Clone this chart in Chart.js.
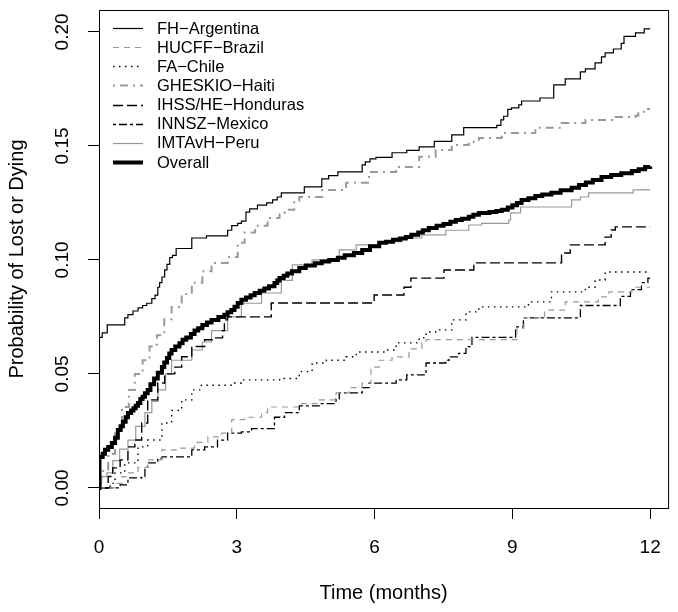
<!DOCTYPE html>
<html>
<head>
<meta charset="utf-8">
<script src="https://cdn.jsdelivr.net/npm/chart.js@4.4.1/dist/chart.umd.min.js"></script>
<style>
  html, body { margin: 0; padding: 0; background: #fff; }
  #wrap { width: 678px; height: 612px; }
</style>
</head>
<body>
<div id="wrap"><canvas id="kmChart" width="678" height="612"></canvas></div>
<script>
// Cumulative probability of lost or dying, step values [month, probability]
const siteNames = ['FH\u2212Argentina', 'HUCFF\u2212Brazil', 'FA\u2212Chile', 'GHESKIO\u2212Haiti',
                   'IHSS/HE\u2212Honduras', 'INNSZ\u2212Mexico', 'IMTAvH\u2212Peru', 'Overall'];

const argentina = [[0,0],[0.01,0.066],[0.07,0.068],[0.18,0.0715],[0.56,0.0746],[0.63,0.076],[0.74,0.0776],
  [0.85,0.079],[0.95,0.080],[1.04,0.081],[1.15,0.083],[1.22,0.0846],[1.28,0.088],[1.32,0.090],[1.37,0.0925],
  [1.43,0.0956],[1.48,0.098],[1.54,0.101],[1.6,0.102],[1.68,0.105],[2.02,0.1096],[2.34,0.1105],[2.8,0.113],
  [2.89,0.115],[3.02,0.116],[3.1,0.117],[3.2,0.121],[3.28,0.1224],[3.45,0.124],[3.65,0.125],[3.78,0.1263],
  [3.88,0.1276],[3.97,0.1294],[4.47,0.132],[4.85,0.1355],[5.0,0.137],[5.2,0.1386],[5.73,0.1417],[5.8,0.143],
  [5.9,0.1443],[6.03,0.145],[6.38,0.147],[6.7,0.148],[6.97,0.1496],[7.3,0.152],[7.68,0.1548],[7.94,0.158],
  [8.66,0.159],[8.75,0.1614],[8.81,0.163],[8.9,0.166],[8.98,0.1667],[9.14,0.168],[9.2,0.1697],[9.6,0.171],
  [9.9,0.1768],[10.15,0.1794],[10.48,0.1825],[10.59,0.1838],[10.8,0.1864],[10.94,0.189],[11.02,0.1908],
  [11.2,0.1925],[11.37,0.195],[11.43,0.198],[11.68,0.1996],[11.87,0.2013],[12,0.2013]];

const brazil = [[0,0],[0.35,0.002],[0.5,0.005],[0.63,0.0066],[0.85,0.009],[1.06,0.0123],[1.37,0.0167],
  [1.72,0.0175],[2.08,0.020],[2.37,0.0224],[2.67,0.024],[2.89,0.030],[3.17,0.031],[3.54,0.033],[3.67,0.0355],
  [4.36,0.037],[4.8,0.0386],[5.16,0.0417],[5.45,0.044],[5.73,0.046],[5.92,0.053],[6.1,0.056],[6.38,0.0575],
  [6.75,0.061],[7.03,0.0636],[7.12,0.065],[9.1,0.070],[9.25,0.0746],[9.7,0.078],[10.15,0.0816],[10.87,0.0838],
  [11.1,0.086],[11.6,0.088],[12,0.088]];

const chile = [[0,0],[0.24,0.002],[0.35,0.0066],[0.56,0.011],[0.85,0.018],[1.06,0.021],[1.37,0.0285],
  [1.58,0.034],[1.8,0.0386],[2.02,0.043],[2.23,0.045],[2.95,0.046],[3.1,0.0474],[3.93,0.048],[4.36,0.051],
  [4.64,0.0548],[4.95,0.056],[5.38,0.0575],[5.6,0.0596],[6.25,0.0605],[6.47,0.0636],[6.97,0.0658],
  [7.12,0.0684],[7.4,0.0693],[7.68,0.0737],[7.99,0.0772],[8.27,0.0794],[9.35,0.0816],[9.85,0.086],
  [10.59,0.088],[10.8,0.0912],[11.02,0.0947],[12,0.0947]];

const haiti = [[0,0],[0.05,0.005],[0.09,0.008],[0.2,0.015],[0.35,0.024],[0.5,0.0355],[0.65,0.043],
  [0.78,0.050],[0.95,0.056],[1.1,0.062],[1.26,0.067],[1.42,0.074],[1.58,0.0794],[1.8,0.085],[2.02,0.090],
  [2.25,0.095],[2.45,0.0987],[2.8,0.1013],[3.02,0.1075],[3.17,0.112],[3.4,0.115],[3.67,0.1184],[3.93,0.1206],
  [4.04,0.122],[4.25,0.126],[4.36,0.1276],[4.86,0.1307],[5.38,0.1338],[5.88,0.1386],[6.47,0.1408],
  [6.97,0.1452],[7.33,0.1482],[7.68,0.1504],[8.05,0.1518],[8.27,0.1535],[8.77,0.1557],[9.5,0.158],
  [10.07,0.160],[10.59,0.1614],[11.24,0.1627],[11.68,0.1632],[11.74,0.165],[11.89,0.1662],[12,0.1662]];

const honduras = [[0,0],[0.2,0.005],[0.3,0.0088],[0.46,0.0123],[0.63,0.018],[0.78,0.021],[0.93,0.0285],
  [1.06,0.0386],[1.28,0.046],[1.43,0.050],[1.65,0.053],[1.8,0.0575],[2.02,0.062],[2.3,0.065],[2.52,0.0658],
  [2.69,0.069],[2.73,0.0737],[2.8,0.075],[3.75,0.0811],[5.99,0.0846],[6.64,0.088],[6.79,0.092],[7.51,0.0956],
  [8.16,0.0987],[10.07,0.103],[10.26,0.1066],[11.02,0.110],[11.15,0.1131],[11.24,0.1145],[12,0.1145]];

const mexico = [[0,0],[0.46,0.0013],[0.63,0.0044],[0.93,0.005],[1.0,0.009],[1.06,0.011],[1.28,0.013],
  [1.37,0.0136],[2.02,0.0167],[2.3,0.018],[2.58,0.021],[2.8,0.024],[3.1,0.0246],[3.32,0.026],[3.82,0.031],
  [4.04,0.033],[4.36,0.036],[4.8,0.037],[5.16,0.039],[5.23,0.0417],[5.73,0.044],[5.88,0.046],[6.47,0.0474],
  [6.7,0.0496],[7.12,0.0548],[7.55,0.056],[7.62,0.0575],[7.83,0.059],[7.99,0.062],[8.12,0.066],[9.07,0.0706],
  [9.24,0.0746],[10.48,0.080],[11.35,0.084],[11.57,0.087],[11.81,0.090],[11.95,0.092],[12,0.092]];

const peru = [[0,0],[0.05,0.005],[0.17,0.0066],[0.3,0.012],[0.45,0.017],[0.63,0.021],[0.8,0.027],[1.0,0.033],
  [1.15,0.038],[1.28,0.043],[1.45,0.050],[1.58,0.056],[2.02,0.0605],[2.25,0.064],[2.45,0.069],[2.8,0.075],
  [3.1,0.081],[3.54,0.0855],[3.97,0.091],[4.21,0.0978],[4.64,0.100],[5.23,0.1044],[5.6,0.1066],[6.1,0.108],
  [6.6,0.1096],[7.03,0.111],[7.55,0.113],[8.05,0.1153],[8.33,0.116],[8.92,0.1175],[8.96,0.1206],
  [9.18,0.1232],[10.29,0.1263],[10.48,0.1276],[10.66,0.1294],[11.63,0.1307],[12,0.1307]];

const overall = [[0,0],[0.01,0.0136],[0.08,0.015],[0.13,0.0167],[0.2,0.018],[0.28,0.0197],[0.35,0.022],
  [0.41,0.0254],[0.47,0.027],[0.52,0.029],[0.58,0.031],[0.63,0.0329],[0.7,0.034],[0.75,0.035],[0.8,0.036],
  [0.85,0.0373],[0.9,0.039],[0.95,0.040],[1.0,0.0415],[1.06,0.043],[1.12,0.0455],[1.2,0.048],[1.28,0.0505],
  [1.37,0.053],[1.42,0.055],[1.48,0.057],[1.53,0.059],[1.58,0.0605],[1.66,0.062],[1.75,0.0635],[1.82,0.065],
  [1.9,0.066],[2.0,0.0675],[2.08,0.069],[2.16,0.070],[2.25,0.0715],[2.35,0.0725],[2.45,0.0737],[2.6,0.075],
  [2.73,0.0759],[2.8,0.077],[2.88,0.078],[2.95,0.0795],[3.02,0.0811],[3.1,0.0825],[3.2,0.0835],[3.3,0.0845],
  [3.39,0.0855],[3.5,0.0865],[3.6,0.0875],[3.7,0.0885],[3.82,0.0899],[3.88,0.091],[3.93,0.0921],[4.02,0.093],
  [4.1,0.094],[4.2,0.095],[4.36,0.0965],[4.5,0.0975],[4.7,0.0985],[4.85,0.0993],[5.01,0.100],[5.2,0.101],
  [5.35,0.102],[5.55,0.103],[5.73,0.1044],[5.9,0.106],[6.1,0.1075],[6.25,0.108],[6.4,0.1088],[6.55,0.1094],
  [6.68,0.110],[6.8,0.111],[6.95,0.112],[7.05,0.113],[7.18,0.114],[7.35,0.115],[7.5,0.1158],[7.65,0.1167],
  [7.77,0.1175],[7.9,0.118],[8.05,0.1189],[8.15,0.1198],[8.27,0.1206],[8.5,0.121],[8.65,0.1215],[8.77,0.122],
  [8.9,0.123],[9.0,0.124],[9.1,0.125],[9.2,0.1263],[9.35,0.127],[9.5,0.128],[9.65,0.1287],[9.85,0.1294],
  [10.05,0.1305],[10.29,0.1316],[10.45,0.1328],[10.6,0.134],[10.75,0.135],[10.94,0.1364],[11.15,0.1372],
  [11.37,0.138],[11.6,0.139],[11.75,0.1398],[11.89,0.1408],[12,0.141]];

const xTicks = [0, 3, 6, 9, 12];
const yTicks = [0, 0.05, 0.10, 0.15, 0.20];
const xTitle = 'Time (months)';
const yTitle = 'Probability of Lost or Dying';

const FONT = '"Liberation Sans", Arial, Helvetica, sans-serif';
const GRAY = '#999999';

// line styles, in legend order
const lineStyles = [
    { color: '#000', width: 1.2, dash: [] },
    { color: GRAY, width: 1.2, dash: [6, 5] },
    { color: '#000', width: 1.4, dash: [1.5, 4.5] },
    { color: GRAY, width: 2, dash: [2, 5, 8, 5] },
    { color: '#000', width: 1.4, dash: [10, 4] },
    { color: '#000', width: 1.3, dash: [3, 3, 8, 3] },
    { color: GRAY, width: 1.2, dash: [] },
    { color: '#000', width: 4, dash: [] }
];

const seriesData = [argentina, brazil, chile, haiti, honduras, mexico, peru, overall];

const framePlugin = {
    id: 'frame',
    afterDraw(chart) {
        const ctx = chart.ctx;
        const area = chart.chartArea;
        const yScale = chart.scales.y;
        ctx.save();

        // plot box
        ctx.strokeStyle = '#000';
        ctx.lineWidth = 1;
        ctx.setLineDash([]);
        ctx.strokeRect(area.left + 0.5, area.top + 0.5, area.right - area.left, area.bottom - area.top);

        // rotated y tick labels
        ctx.fillStyle = '#000';
        ctx.font = '19px ' + FONT;
        ctx.textAlign = 'center';
        ctx.textBaseline = 'middle';
        yTicks.forEach(function(v) {
            const py = yScale.getPixelForValue(v);
            ctx.save();
            ctx.translate(63, py);
            ctx.rotate(-Math.PI / 2);
            ctx.fillText(v.toFixed(2), 0, 0);
            ctx.restore();
        });

        // legend, top left inside the box
        ctx.font = '16.5px ' + FONT;
        ctx.textAlign = 'left';
        siteNames.forEach(function(name, i) {
            const st = lineStyles[i];
            const ly = 28 + i * 19.15;
            ctx.strokeStyle = st.color;
            ctx.lineWidth = st.width;
            ctx.setLineDash(st.dash);
            ctx.beginPath();
            ctx.moveTo(113, Math.round(ly) + 0.5);
            ctx.lineTo(143, Math.round(ly) + 0.5);
            ctx.stroke();
            ctx.fillText(name, 157, ly + 1);
        });
        ctx.restore();
    }
};

const ctx = document.getElementById('kmChart').getContext('2d');
const kmChart = new Chart(ctx, {
    type: 'line',
    data: {
        datasets: seriesData.map(function(series, i) {
            return {
                label: siteNames[i],
                data: series.map(p => ({ x: p[0], y: p[1] })),
                borderColor: lineStyles[i].color,
                borderWidth: lineStyles[i].width,
                borderDash: lineStyles[i].dash,
                borderCapStyle: 'butt',
                pointRadius: 0,
                fill: false,
                stepped: true,
                tension: 0,
                order: i === 7 ? 0 : i + 1
            };
        })
    },
    options: {
        responsive: false,
        animation: false,
        devicePixelRatio: 1,
        layout: { padding: { top: 10, right: 8, left: 0, bottom: 0 } },
        plugins: {
            legend: { display: false },
            tooltip: { enabled: false }
        },
        scales: {
            x: {
                type: 'linear',
                min: 0,
                max: 12.39,
                afterBuildTicks: function(scale) {
                    scale.ticks = xTicks.map(v => ({ value: v }));
                },
                afterFit: function(scale) { scale.height = 104; },
                border: { display: false },
                grid: { drawOnChartArea: false, drawTicks: true, tickLength: 11, color: '#000', lineWidth: 1 },
                ticks: {
                    color: '#000',
                    padding: 17,
                    maxRotation: 0,
                    autoSkip: false,
                    font: { size: 19, family: FONT }
                },
                title: {
                    display: true,
                    text: xTitle,
                    color: '#000',
                    font: { size: 20, family: FONT },
                    padding: { top: 0, bottom: 7 }
                }
            },
            y: {
                type: 'linear',
                min: -0.0088,
                max: 0.2096,
                afterBuildTicks: function(scale) {
                    scale.ticks = yTicks.map(v => ({ value: v }));
                },
                afterFit: function(scale) { scale.width = 99; },
                border: { display: false },
                grid: { drawOnChartArea: false, drawTicks: true, tickLength: 11, color: '#000', lineWidth: 1 },
                ticks: { display: false },
                title: {
                    display: true,
                    text: yTitle,
                    color: '#000',
                    font: { size: 20, family: FONT },
                    padding: { top: 5, bottom: 0 }
                }
            }
        }
    },
    plugins: [framePlugin]
});
</script>
</body>
</html>
